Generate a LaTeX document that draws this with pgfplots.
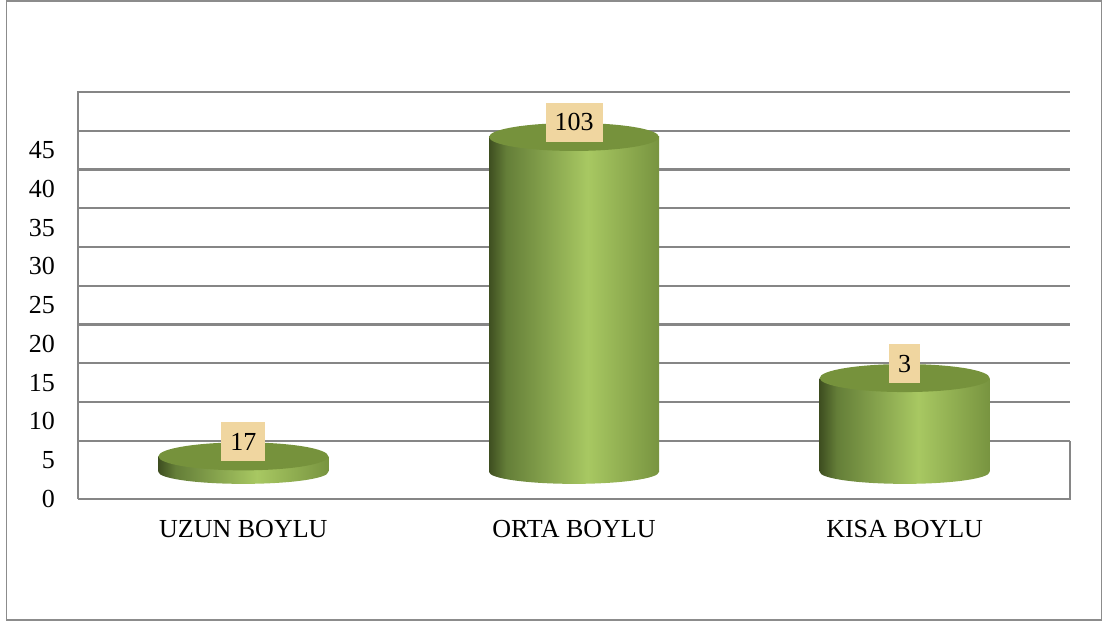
\documentclass[border=0pt]{standalone}
\usepackage{pgfplots}
\pgfplotsset{compat=1.18}
\usepackage{fontspec}
\setmainfont{Liberation Serif}
\definecolor{gridc}{RGB}{134,134,134}
\definecolor{topc}{RGB}{118,146,60}
\definecolor{cA}{RGB}{62,78,32}
\definecolor{cB}{RGB}{100,126,56}
\definecolor{cC}{RGB}{168,200,98}
\definecolor{cD}{RGB}{120,148,64}
\definecolor{labc}{RGB}{240,214,160}
\pgfdeclarehorizontalshading{cyl}{100bp}{color(0bp)=(cA); color(25bp)=(cA); color(30bp)=(cB); color(54bp)=(cC); color(75bp)=(cD); color(100bp)=(cD)}
\pgfdeclareplotmark{cylbottom}{%
  \pgfpathellipse{\pgfpointorigin}{\pgfqpoint{85bp}{0pt}}{\pgfqpoint{0pt}{12bp}}%
  \pgfshadepath{cyl}{0}\pgfusepath{discard}}
\pgfdeclareplotmark{cyltop}{%
  \pgfpathellipse{\pgfpointorigin}{\pgfqpoint{85bp}{0pt}}{\pgfqpoint{0pt}{14bp}}%
  \pgfsetfillcolor{topc}\pgfusepath{fill}}
\pgfplotsset{cylside/.style={ybar, bar width=170bp, bar shift=0pt, draw=none, shading=cyl}}
\begin{document}
\begin{tikzpicture}
\path[use as bounding box] (0,0) rectangle (1103bp,621bp);
\draw[gray!90, line width=1.5bp] (6.5bp,1bp) rectangle (1101.5bp,620bp);
\begin{axis}[
  at={(78bp,122bp)}, anchor=south west,
  scale only axis, width=992bp, height=407bp,
  xmin=-0.5, xmax=2.5, ymin=-3.5, ymax=49,
  clip=false,
  axis line style={draw=none},
  major tick length=0pt,
  xtick={0,1,2},
  xticklabels={UZUN BOYLU, ORTA BOYLU, KISA BOYLU},
  ytick={-3.5,1.5,6.5,11.5,16.5,21.5,26.5,31.5,36.5,41.5},
  yticklabels={0,5,10,15,20,25,30,35,40,45},
  ticklabel style={font=\fontsize{26bp}{30bp}\selectfont},
  xticklabel style={anchor=base, yshift=-39bp},
  yticklabel style={anchor=east, inner sep=0pt, xshift=-23bp},
  extra y ticks={4,9,14,19,24,29,34,39,44},
  extra y tick labels={},
  extra y tick style={grid=major, major grid style={draw=gridc, line width=2.2bp}},
]
% frame
\draw[gridc, line width=2.2bp] (axis cs:-0.5,-3.5) -- (axis cs:-0.5,49) -- (axis cs:2.5,49);
\draw[gridc, line width=2.2bp] (axis cs:-0.5,-3.5) -- (axis cs:2.5,-3.5) -- (axis cs:2.5,4);
% bottom ellipses
\addplot[only marks, mark=cylbottom] coordinates {(0,0) (1,0) (2,0)};
% cylinder sides
\addplot[cylside] coordinates {(0,2.0)};
\addplot[cylside] coordinates {(1,43.2)};
\addplot[cylside] coordinates {(2,12.1)};
% top ellipses with labels
\addplot[only marks, mark=cyltop,
  point meta=explicit symbolic,
  nodes near coords,
  every node near coord/.append style={anchor=center, yshift=14.5bp, fill=labc, inner xsep=9bp, inner ysep=0pt, minimum height=39bp, font=\fontsize{26bp}{30bp}\selectfont, text=black}]
  coordinates {(0,2.0) [17] (1,43.2) [103] (2,12.1) [3]};
\end{axis}
\end{tikzpicture}
\end{document}
